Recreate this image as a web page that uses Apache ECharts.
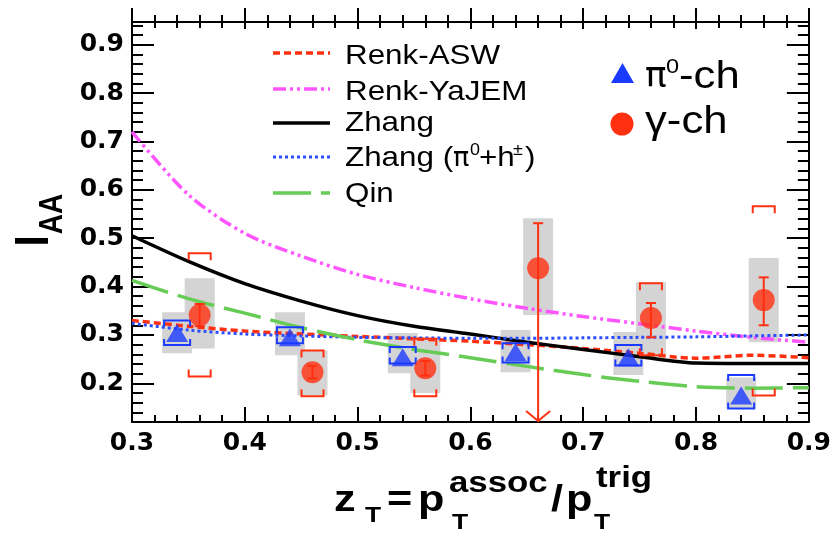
<!DOCTYPE html>
<html><head><meta charset="utf-8">
<script src="https://cdn.jsdelivr.net/npm/echarts@6/dist/echarts.min.js"></script>
<style>html,body{margin:0;padding:0;background:#fff}#c{width:834px;height:534px}</style>
</head><body><div id="c"></div>
<script>
// ---------- data ----------
const Y_MIN = 0.12, Y_MAX = 0.947;
const xTickLabels = ['0.3','0.4','0.5','0.6','0.7','0.8','0.9'];
const yMajorTicks = [0.2,0.3,0.4,0.5,0.6,0.7,0.8,0.9];
const yMinorTicks = [0.14,0.16,0.18,0.22,0.24,0.26,0.28,0.32,0.34,0.36,0.38,0.42,0.44,0.46,0.48,0.52,0.54,0.56,0.58,0.62,0.64,0.66,0.68,0.72,0.74,0.76,0.78,0.82,0.84,0.86,0.88,0.92,0.94];

const curveX    = [0.30,0.35,0.40,0.45,0.50,0.55,0.60,0.65,0.70,0.75,0.80,0.85,0.90];
const renkASW   = [0.330,0.318,0.308,0.302,0.297,0.292,0.287,0.280,0.272,0.262,0.252,0.258,0.253];
const renkYaJEM = [0.720,0.590,0.510,0.463,0.425,0.398,0.375,0.355,0.338,0.323,0.308,0.295,0.285];
const zhang     = [0.505,0.452,0.406,0.370,0.340,0.318,0.302,0.285,0.270,0.255,0.242,0.241,0.241];
const zhangPiH  = [0.324,0.310,0.302,0.298,0.295,0.294,0.293,0.293,0.294,0.295,0.296,0.298,0.300];
const qin       = [0.413,0.375,0.345,0.315,0.290,0.270,0.253,0.235,0.218,0.204,0.193,0.190,0.191];

const gammaX      = [0.36,0.46,0.56,0.66,0.76,0.86];
const gammaY      = [0.341,0.223,0.231,0.438,0.335,0.372];
const gammaStatLo = [0.318,0.210,0.216,null,0.295,0.320];
const gammaStatHi = [0.364,0.236,0.246,0.531,0.366,0.419];
const gammaUpperLimit = [false,false,false,true,false,false];
const gammaBoxLo  = [0.272,0.175,0.180,0.341,0.254,0.285];
const gammaBoxHi  = [0.417,0.268,0.294,0.541,0.409,0.459];
const gammaBrkLo  = [0.214,0.173,0.173,null,0.258,0.175];
const gammaBrkHi  = [0.469,0.268,0.292,null,0.407,0.566];

const pi0X     = [0.34,0.44,0.54,0.64,0.74,0.84];
const pi0Y     = [0.304,0.295,0.254,0.264,0.254,0.175];
const pi0BoxLo = [0.262,0.258,0.221,0.223,0.217,0.148];
const pi0BoxHi = [0.347,0.347,0.304,0.310,0.306,0.212];
const pi0BrkLo = [0.279,0.283,0.241,0.243,0.237,0.148];
const pi0BrkHi = [0.330,0.316,0.275,0.283,0.279,0.217];

// ---------- styles ----------
const RED = '#ff3010', BLUE = '#1a3aff', MAG = '#ff55ff', GREEN = '#66cc55', DOTBLUE = '#2b4cff', GRAY = '#d4d4d4';
const FONT = 'Liberation Sans';

const pairs = (xs, ys) => xs.map((x, i) => [x, ys[i]]);
const triples = (xs, a, b) => xs.map((x, i) => [x, a[i], b[i]]).filter(d => d[1] != null && d[2] != null);

function boxRender(halfW, fill) {
  return (params, api) => {
    const x = api.value(0);
    const p0 = api.coord([x, api.value(1)]), p1 = api.coord([x, api.value(2)]);
    return { type: 'rect', shape: { x: p0[0] - halfW, y: p1[1], width: 2 * halfW, height: p0[1] - p1[1] }, style: { fill } };
  };
}
function bracketRender(halfW, leg, color) {
  return (params, api) => {
    const x = api.value(0);
    const a = api.coord([x, api.value(1)]), b = api.coord([x, api.value(2)]);
    const st = { stroke: color, lineWidth: 2, fill: null };
    return { type: 'group', children: [
      { type: 'polyline', shape: { points: [[a[0]-halfW, a[1]-leg],[a[0]-halfW, a[1]],[a[0]+halfW, a[1]],[a[0]+halfW, a[1]-leg]] }, style: st },
      { type: 'polyline', shape: { points: [[b[0]-halfW, b[1]+leg],[b[0]-halfW, b[1]],[b[0]+halfW, b[1]],[b[0]+halfW, b[1]+leg]] }, style: st }
    ]};
  };
}
function errRender(color) {
  return (params, api) => {
    const x = api.value(0), lim = api.value(3);
    const hi = api.coord([x, api.value(2)]);
    const lo = api.coord([x, lim ? Y_MIN : api.value(1)]);
    const st = { stroke: color, lineWidth: 2 };
    const ch = [
      { type: 'line', shape: { x1: hi[0], y1: hi[1], x2: lo[0], y2: lo[1] }, style: st },
      { type: 'line', shape: { x1: hi[0]-5, y1: hi[1], x2: hi[0]+5, y2: hi[1] }, style: st }
    ];
    if (lim) {
      ch.push({ type: 'polyline', shape: { points: [[lo[0]-12, lo[1]-11],[lo[0], lo[1]-1],[lo[0]+12, lo[1]-11]] }, style: { stroke: color, lineWidth: 2, fill: null } });
    } else {
      ch.push({ type: 'line', shape: { x1: lo[0]-5, y1: lo[1], x2: lo[0]+5, y2: lo[1] }, style: st });
    }
    return { type: 'group', children: ch };
  };
}

const errData = gammaX.map((x, i) => [x, gammaStatLo[i] == null ? Y_MIN : gammaStatLo[i], gammaStatHi[i], gammaUpperLimit[i] ? 1 : 0]);

function lineSeries(name, ys, color, type, width) {
  return { name, type: 'line', data: pairs(curveX, ys), showSymbol: false, symbol: 'none', smooth: 0.3, z: 3,
    lineStyle: { color, type, width }, silent: true, animation: false };
}

const axisLabelStyle = { fontFamily: 'DejaVu Sans', fontWeight: 'bold', fontSize: 25, color: '#000' };
const blackLine = { lineStyle: { color: '#000', width: 2 } };

// ---------- graphic text helpers ----------
function txt(text, x, y, size, opts) {
  opts = opts || {};
  return { type: 'text', x, y, scaleX: opts.scaleX || 1, scaleY: opts.scaleY || 1, rotation: opts.rotation || 0, z: 100,
    style: { text, fontFamily: opts.font || FONT, fontSize: size, fontWeight: opts.bold ? 'bold' : 'normal', fill: '#000',
      align: opts.align || 'left', verticalAlign: 'middle' } };
}
function legLine(y, color, dash, width) {
  return { type: 'line', z: 100, shape: { x1: 273, y1: y, x2: 330, y2: y }, style: { stroke: color, lineWidth: width, lineDash: dash } };
}
const LS = 1.12, TS = 1.2;

const graphic = [
  // left legend
  legLine(53, RED, [7,4], 3.5),
  legLine(89, MAG, [13,4,3,4,3,4], 3.5),
  legLine(123, '#000', null, 3.5),
  legLine(157, DOTBLUE, [3,3], 3),
  legLine(193, GREEN, [38,10], 3.5),
  txt('Renk-ASW', 345, 56, 28, { scaleX: LS }),
  txt('Renk-YaJEM', 345, 92, 28, { scaleX: LS }),
  txt('Zhang', 345, 123, 28, { scaleX: LS }),
  txt('Zhang (', 345, 158, 28, { scaleX: LS }),
  txt('\u03c0', 453, 159, 27, { font: 'DejaVu Sans' }),
  txt('0', 470, 151, 16, { scaleX: LS }),
  txt('+h', 479, 158, 28, { scaleX: LS }),
  txt('\u00b1', 513, 151, 16, { scaleX: LS }),
  txt(')', 525, 158, 28, { scaleX: LS }),
  txt('Qin', 345, 194, 28, { scaleX: LS }),
  // right legend
  { type: 'polygon', z: 100, shape: { points: [[611, 83], [622.5, 63], [634, 83]] }, style: { fill: BLUE } },
  { type: 'circle', z: 100, shape: { cx: 622, cy: 124, r: 11.5 }, style: { fill: RED } },
  txt('\u03c0', 645, 78, 36, { font: 'DejaVu Sans' }),
  txt('0', 666, 67, 21, { scaleX: LS }),
  txt('-ch', 679, 77, 39, { scaleX: LS }),
  txt('\u03b3-ch', 645, 122, 39, { scaleX: LS }),
  // y title I_AA (rotated)
  txt('I', 35, 241, 40, { bold: true, rotation: Math.PI / 2, scaleY: TS, align: 'center' }),
  txt('AA', 53, 214, 28, { bold: true, rotation: Math.PI / 2, scaleY: TS, align: 'center' }),
  // x title
  txt('z', 334, 501, 36, { bold: true, scaleX: TS }),
  txt('T', 365, 516, 22, { bold: true, scaleX: TS }),
  txt('=', 387, 501, 36, { bold: true, scaleX: TS }),
  txt('p', 418, 501, 36, { bold: true, scaleX: TS }),
  txt('assoc', 449, 484, 29, { bold: true, scaleX: TS }),
  txt('T', 452, 523, 22, { bold: true, scaleX: TS }),
  txt('/', 551, 501, 36, { bold: true, scaleX: TS }),
  txt('p', 566, 501, 36, { bold: true, scaleX: TS }),
  txt('trig', 596, 479, 29, { bold: true, scaleX: TS }),
  txt('T', 594, 523, 22, { bold: true, scaleX: TS })
];

const chart = echarts.init(document.getElementById('c'), null, { renderer: 'canvas' });
chart.setOption({
  animation: false,
  backgroundColor: '#fff',
  grid: { left: 132, right: 21, top: 22, bottom: 112, containLabel: false },
  xAxis: [
    { type: 'value', position: 'bottom', min: 0.3, max: 0.9, interval: 0.1,
      axisLine: blackLine, axisTick: { inside: true, length: 15, lineStyle: { color: '#000', width: 2 } },
      minorTick: { show: true, splitNumber: 5, length: 7, lineStyle: { color: '#000', width: 2 } },
      axisLabel: Object.assign({ margin: 9, formatter: (v) => xTickLabels[Math.round((v - 0.3) * 10)] }, axisLabelStyle),
      splitLine: { show: false }, minorSplitLine: { show: false } },
    { type: 'value', position: 'top', min: 0.3, max: 0.9, interval: 0.1,
      axisLine: blackLine, axisTick: { inside: false, length: 14, lineStyle: { color: '#000', width: 2 } },
      minorTick: { show: true, splitNumber: 5, length: 7, lineStyle: { color: '#000', width: 2 } },
      axisLabel: { show: false }, splitLine: { show: false } },
    { type: 'value', position: 'top', min: 0.3, max: 0.9, interval: 0.1,
      axisLine: { show: false }, axisTick: { inside: true, length: 7, lineStyle: { color: '#000', width: 2 } },
      minorTick: { show: true, splitNumber: 5, length: 6, lineStyle: { color: '#000', width: 2 } },
      axisLabel: { show: false }, splitLine: { show: false } }
  ],
  yAxis: [
    { type: 'value', position: 'left', min: Y_MIN, max: Y_MAX,
      axisLine: Object.assign({ show: true }, blackLine),
      axisTick: { show: true, inside: true, length: 22, customValues: yMajorTicks, lineStyle: { color: '#000', width: 2 } },
      axisLabel: Object.assign({ margin: 8, customValues: yMajorTicks, formatter: (v) => v.toFixed(1) }, axisLabelStyle),
      splitLine: { show: false } },
    { type: 'value', position: 'left', min: Y_MIN, max: Y_MAX,
      axisLine: { show: false },
      axisTick: { show: true, inside: true, length: 11, customValues: yMinorTicks, lineStyle: { color: '#000', width: 2 } },
      axisLabel: { show: false }, splitLine: { show: false } },
    { type: 'value', position: 'right', min: Y_MIN, max: Y_MAX,
      axisLine: Object.assign({ show: true }, blackLine),
      axisTick: { show: true, inside: true, length: 22, customValues: yMajorTicks, lineStyle: { color: '#000', width: 2 } },
      axisLabel: { show: false }, splitLine: { show: false } },
    { type: 'value', position: 'right', min: Y_MIN, max: Y_MAX,
      axisLine: { show: false },
      axisTick: { show: true, inside: true, length: 11, customValues: yMinorTicks, lineStyle: { color: '#000', width: 2 } },
      axisLabel: { show: false }, splitLine: { show: false } }
  ],
  series: [
    { type: 'custom', name: 'pi0 sys', z: 1, data: triples(pi0X, pi0BoxLo, pi0BoxHi), renderItem: boxRender(15, GRAY), silent: true },
    { type: 'custom', name: 'gamma sys', z: 1, data: triples(gammaX, gammaBoxLo, gammaBoxHi), renderItem: boxRender(15, GRAY), silent: true },
    lineSeries('Renk-ASW', renkASW, RED, [7,4], 3.5),
    lineSeries('Renk-YaJEM', renkYaJEM, MAG, [13,4,3,4,3,4], 3.5),
    lineSeries('Zhang', zhang, '#000', 'solid', 3.5),
    lineSeries('Zhang (pi0+h)', zhangPiH, DOTBLUE, [3,3], 3),
    lineSeries('Qin', qin, GREEN, [38,10], 3.5),
    { type: 'custom', name: 'pi0 brk', z: 4, data: triples(pi0X, pi0BrkLo, pi0BrkHi), renderItem: bracketRender(13, 6, BLUE), silent: true },
    { type: 'custom', name: 'gamma brk', z: 4, data: triples(gammaX, gammaBrkLo, gammaBrkHi), renderItem: bracketRender(11, 7, RED), silent: true },
    { type: 'custom', name: 'gamma stat', z: 5, data: errData, renderItem: errRender(RED), silent: true },
    { type: 'scatter', name: 'pi0-ch', z: 6, data: pairs(pi0X, pi0Y), symbol: 'triangle', symbolSize: [22, 18], itemStyle: { color: BLUE }, silent: true },
    { type: 'scatter', name: 'gamma-ch', z: 6, data: pairs(gammaX, gammaY), symbol: 'circle', symbolSize: 22, itemStyle: { color: RED }, silent: true }
  ],
  graphic
});
</script></body></html>
